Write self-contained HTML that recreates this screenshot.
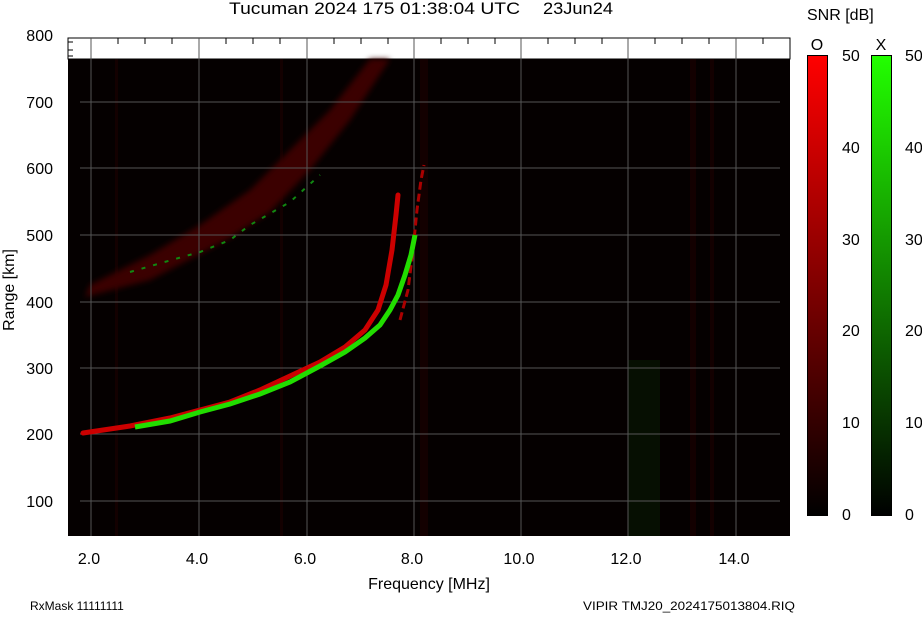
<!DOCTYPE html>
<html><head><meta charset="utf-8"><style>
body{margin:0;background:#fff;width:922px;height:614px;overflow:hidden}
text{font-family:"Liberation Sans",sans-serif;fill:#000}
</style></head><body>
<svg width="922" height="614" viewBox="0 0 922 614">
<defs>
<linearGradient id="gr" x1="0" y1="0" x2="0" y2="1"><stop offset="0" stop-color="#ff0000"/><stop offset="1" stop-color="#000"/></linearGradient>
<linearGradient id="gg" x1="0" y1="0" x2="0" y2="1"><stop offset="0" stop-color="#22ff00"/><stop offset="1" stop-color="#000"/></linearGradient>
<filter id="bl"><feGaussianBlur stdDeviation="3"/></filter>
</defs>
<text x="229" y="14" font-size="17" textLength="291" lengthAdjust="spacingAndGlyphs">Tucuman 2024 175 01:38:04 UTC</text>
<text x="543" y="14" font-size="17" textLength="70" lengthAdjust="spacingAndGlyphs">23Jun24</text>
<rect x="68" y="38" width="722" height="21" fill="#fff" stroke="#000" stroke-width="1"/>
<rect x="68" y="59" width="722" height="477" fill="#050000"/>
<g stroke="#000" stroke-width="1">
<path d="M91 38v8M118 38v6M145 38v6M172 38v6M199 38v8M226 38v6M253 38v6M280 38v6M307 38v8M334 38v6M361 38v6M388 38v6M414 38v8M441 38v6M468 38v6M495 38v6M521 38v8M548 38v6M575 38v6M602 38v6M628 38v8M655 38v6M682 38v6M709 38v6M736 38v8M763 38v6M68 42h5M68 50h5M68 56h5"/>
</g>
<g fill="#200" opacity="0.5">
<rect x="115" y="59" width="3" height="477"/><rect x="280" y="59" width="3" height="477"/><rect x="420" y="59" width="8" height="477"/><rect x="690" y="59" width="6" height="477"/><rect x="710" y="59" width="4" height="477"/>
</g>
<rect x="628" y="360" width="32" height="176" fill="#0a2a05" opacity="0.35"/>
<path d="M85 297 L150 280 L200 254 L230 238 L270 212 L310 170 L350 120 L390 59 L370 59 L330 110 L290 150 L250 190 L200 225 L150 255 L90 285Z" fill="#3a0606" filter="url(#bl)"/>
<path d="M130 272 L175 259 L200 252 L230 240 L250 225 L290 202 L320 175" fill="none" stroke="#118811" stroke-width="2" stroke-dasharray="4 8"/>
<g stroke="#555" stroke-width="1">
<path d="M80 102H780M80 168H780M80 235H780M80 302H780M80 368H780M80 434H780M80 501H780"/>
<path d="M91 38V536M199 38V536M307 38V536M414 38V536M521 38V536M628 38V536M736 38V536"/>
</g>
<path d="M83 433 L130 426 L170 418 L200 410 L230 402 L260 390 L290 376 L320 362 L345 347 L365 330 L378 310 L386 285 L392 250 L396 215 L398 195" fill="none" stroke="#cc0000" stroke-width="5" stroke-linecap="round"/>
<path d="M400 320 L408 290 L413 250 L417 210 L421 180 L424 165" fill="none" stroke="#aa0000" stroke-width="3" stroke-dasharray="8 4"/>
<path d="M135 427 L170 421 L200 412 L230 404 L260 394 L290 382 L320 366 L345 352 L365 338 L380 325 L390 310 L398 295 L405 275 L411 255 L415 235" fill="none" stroke="#22dd00" stroke-width="5"/>
<g font-size="16" text-anchor="end">
<text x="53" y="41">800</text><text x="53" y="108">700</text><text x="53" y="174">600</text><text x="53" y="241">500</text><text x="53" y="308">400</text><text x="53" y="374">300</text><text x="53" y="440">200</text><text x="53" y="507">100</text>
</g>
<text transform="translate(14 290) rotate(-90)" font-size="16" text-anchor="middle">Range [km]</text>
<g font-size="16" text-anchor="middle">
<text x="89" y="564">2.0</text><text x="197" y="564">4.0</text><text x="305" y="564">6.0</text><text x="412" y="564">8.0</text><text x="519" y="564">10.0</text><text x="626" y="564">12.0</text><text x="734" y="564">14.0</text>
<text x="429" y="589">Frequency [MHz]</text>
</g>
<text x="30" y="610" font-size="12">RxMask 11111111</text>
<text x="583" y="610" font-size="12" textLength="212" lengthAdjust="spacingAndGlyphs">VIPIR  TMJ20_2024175013804.RIQ</text>
<text x="807" y="20" font-size="16">SNR [dB]</text>
<text x="817" y="50" font-size="16" text-anchor="middle">O</text>
<text x="881" y="50" font-size="16" text-anchor="middle">X</text>
<rect x="807.5" y="55.5" width="20" height="460" fill="url(#gr)" stroke="#000"/>
<rect x="871.5" y="55.5" width="20" height="460" fill="url(#gg)" stroke="#000"/>
<g font-size="16">
<text x="842" y="61">50</text><text x="842" y="153">40</text><text x="842" y="245">30</text><text x="842" y="336">20</text><text x="842" y="428">10</text><text x="842" y="520">0</text>
<text x="905" y="61">50</text><text x="905" y="153">40</text><text x="905" y="245">30</text><text x="905" y="336">20</text><text x="905" y="428">10</text><text x="905" y="520">0</text>
</g>
</svg>
</body></html>
